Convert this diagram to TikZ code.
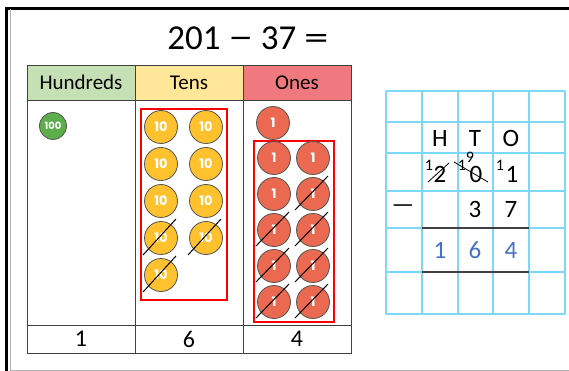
\documentclass[tikz,border=0pt]{standalone}
\usepackage{fontspec}
\setmainfont{Carlito}
\newfontfamily\cntfont{Poppins}
\usetikzlibrary{calc}
\definecolor{hundc}{HTML}{C5E0B4}
\definecolor{tenhc}{HTML}{FFE699}
\definecolor{onehc}{HTML}{F0787F}
\definecolor{greenc}{HTML}{5BAE4A}
\definecolor{yellowc}{HTML}{FFC22E}
\definecolor{redc}{HTML}{EA6950}
\definecolor{cntline}{HTML}{555555}
\definecolor{tabline}{HTML}{404040}
\definecolor{gridblue}{HTML}{7CD7F8}
\definecolor{ansblue}{HTML}{4472C4}
\begin{document}
\begin{tikzpicture}[x=1pt,y=-1pt,
 cell/.style={draw=tabline, line width=0.9pt, minimum width=108pt, inner sep=0pt, font=\fontsize{21}{24}\selectfont},
 cnt/.style={circle, draw=cntline, line width=0.8pt, minimum size=33pt, inner sep=0pt, text=white, font=\cntfont\bfseries\fontsize{13}{14}\selectfont},
 crossmark/.style={black, line width=1pt},
 redbox/.style={draw=red, line width=1.1pt},
 gridline/.style={gridblue, line width=1.3pt},
 gtxt/.style={font=\fontsize{25}{27}\selectfont, inner sep=0pt},
 suptxt/.style={font=\fontsize{16}{18}\selectfont, inner sep=0pt},
 rule/.style={tabline, line width=1.1pt},
]
\useasboundingbox (0,0) rectangle (569,371);
% outer frame
\draw[black, line width=3pt] (7,9) -- (569,9);
\draw[black, line width=3pt] (6.5,7.5) -- (6.5,371);
\draw[gray!60, line width=0.6pt] (10,9) -- (10,371);
\draw[gray!60, line width=1pt] (10,370) -- (569,370);
% title
\node[font=\fontsize{35}{38}\selectfont] (title) at (248,38) {201 \scalebox{1.4}[1]{−} 37 \scalebox{1.4}[1]{=}};
% table
\node[cell, fill=hundc, minimum height=35pt] (h1) at (81,82.5) {Hundreds};
\node[cell, fill=tenhc, minimum height=35pt] (h2) at (189,82.5) {Tens};
\node[cell, fill=onehc, minimum height=35pt] (h3) at (297,82.5) {Ones};
\node[cell, minimum height=225pt] (b1) at (81,212.5) {};
\node[cell, minimum height=225pt] (b2) at (189,212.5) {};
\node[cell, minimum height=225pt] (b3) at (297,212.5) {};
\node[cell, minimum height=28pt, font=\fontsize{24}{26}\selectfont] (f1) at (81,339) {1};
\node[cell, minimum height=28pt, font=\fontsize{24}{26}\selectfont] (f2) at (189,339) {6};
\node[cell, minimum height=28pt, font=\fontsize{24}{26}\selectfont] (f3) at (297,339) {4};
% hundreds
\node[cnt, fill=greenc, minimum size=27pt, font=\cntfont\bfseries\fontsize{10}{11}\selectfont] (c100) at (53,126) {100};
% tens
\draw[redbox] (141,109) rectangle (227,300);
\foreach \n/\x/\y in {1/161/127,2/206/127,3/161/164,4/206/164,5/161/201,6/206/201,7/161/238,8/206/238,9/161/275}
  \node[cnt, fill=yellowc] (t\n) at (\x,\y) {10};
\foreach \n in {7,8,9}
  \draw[crossmark] ([shift={(-18,17)}]t\n.center) -- ([shift={(15,-19)}]t\n.center);
% ones
\node[cnt, fill=redc] (o0) at (273,123) {1};
\draw[redbox] (254,141) rectangle (334,322);
\foreach \n/\x/\y in {1/274/158,2/313/158,3/274/194,4/313/194,5/274/230,6/313/230,7/274/266,8/313/266,9/274/302,10/313/302}
  \node[cnt, fill=redc] (o\n) at (\x,\y) {1};
\foreach \n in {4,5,6,7,8,9,10}
  \draw[crossmark] ([shift={(-18,16)}]o\n.center) -- ([shift={(15,-18)}]o\n.center);
% grid
\foreach \x in {386,422,458,493,529,565}
  \draw[gridline] (\x,91) -- (\x,314);
\foreach \y in {91,122,153,191,228,272,314}
  \draw[gridline] (386,\y) -- (565,\y);
\node[gtxt] (gH) at (440,138) {H};
\node[gtxt] (gT) at (475,138) {T};
\node[gtxt] (gO) at (511,138) {O};
\node[gtxt] (g2) at (440,174) {2};
\node[gtxt] (g0) at (476,174) {0};
\node[gtxt] (g1) at (512,174) {1};
\node[suptxt] (s2) at (429,165) {1};
\node[suptxt] (s0) at (462,165) {1};
\node[suptxt] (s9) at (470,157) {9};
\node[suptxt] (s1) at (500,165) {1};
\draw[crossmark, line width=0.8pt] ([shift={(-12,8)}]g2.center) -- ([shift={(9,-11)}]g2.center);
\draw[crossmark, line width=0.8pt] ([shift={(-22,-12)}]g0.center) -- ([shift={(12,8)}]g0.center);
\node[gtxt] (gm) at (403,209) {—};
\node[gtxt] (g3) at (475,209) {3};
\node[gtxt] (g7) at (511,209) {7};
\node[gtxt, text=ansblue] (a1) at (440,250) {1};
\node[gtxt, text=ansblue] (a6) at (475,250) {6};
\node[gtxt, text=ansblue] (a4) at (511,250) {4};
\draw[rule] (422,228) -- (529,228);
\draw[rule] (422,272) -- (529,272);
\end{tikzpicture}
\end{document}
